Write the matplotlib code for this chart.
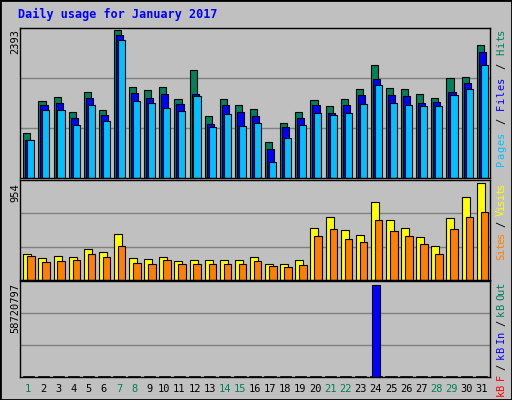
import matplotlib
matplotlib.use("Agg")
import matplotlib.pyplot as plt
import numpy as np

days = list(range(1, 32))
hits = [729,1251,1316,1072,1398,1104,2393,1480,1431,1480,1284,1741,1006,1284,1186,1121,582,892,1072,1268,1170,1284,1447,1822,1463,1447,1365,1300,1627,1643,2149]
files = [615,1186,1219,974,1300,1023,2312,1382,1300,1365,1202,1365,876,1186,1072,1006,468,827,974,1186,1055,1186,1349,1610,1349,1333,1219,1235,1398,1545,2035]
pages = [615,1104,1104,860,1186,925,2230,1251,1219,1137,1088,1333,827,1039,843,892,256,647,860,1055,1023,1055,1202,1512,1219,1186,1170,1170,1349,1447,1822]
visits = [259,218,238,228,301,280,456,218,207,228,187,197,197,197,197,228,156,156,197,508,622,487,446,767,591,508,425,332,612,819,954]
sites = [238,176,187,197,259,228,332,166,156,197,156,156,156,156,156,187,135,124,145,436,498,404,373,591,477,436,353,259,498,622,664]
kb_in = [0]*23 + [58720797] + [0]*7
weekend = [1,7,8,14,15,21,22,28,29]
max_hits, max_visits, max_kb = 2393, 954, 58720797

W, H = 512, 400
fig = plt.figure(figsize=(5.12, 4.0), dpi=100, facecolor="#c0c0c0")
bg = "#c0c0c0"
mono = "DejaVu Sans Mono"

def ax_px(l, t, r, b):
    return fig.add_axes([l/W, 1-b/H, (r-l)/W, (b-t)/H])

x = np.array(days)
xl = (0.45, 31.55)

def setup(ax, top, ymax):
    ax.set_facecolor(bg)
    ax.set_xlim(*xl)
    ax.set_ylim(0, top)
    for v in (ymax/3, 2*ymax/3):
        ax.axhline(v, color="#808080", lw=1, zorder=0)
    ax.set_xticks([]); ax.set_yticks([])
    for s in ax.spines.values():
        s.set_color("black"); s.set_linewidth(1)

a1 = ax_px(20, 28, 490, 178)
setup(a1, max_hits*1.015, max_hits*1.015)
a1.bar(x-0.33, hits, width=0.47, align="edge", color="#00805c", edgecolor="black", lw=0.8)
a1.bar(x-0.2, files, width=0.47, align="edge", color="#0000ff", edgecolor="black", lw=0.8)
a1.bar(x-0.07, pages, width=0.47, align="edge", color="#00c0ff", edgecolor="black", lw=0.8)

a2 = ax_px(20, 180, 490, 280)
setup(a2, max_visits*1.03, max_visits*1.03)
a2.bar(x-0.33, visits, width=0.53, align="edge", color="#ffff00", edgecolor="black", lw=0.8)
a2.bar(x-0.07, sites, width=0.5, align="edge", color="#ff8000", edgecolor="black", lw=0.8)

a3 = ax_px(20, 281, 490, 377)
setup(a3, max_kb*1.04, max_kb*1.04)
a3.bar(x, [max_kb*0.012]*31, width=0.75, align="center", color="black", edgecolor="black", lw=0.5)
a3.bar(x-0.25, kb_in, width=0.5, align="edge", color="#0000ff", edgecolor="black", lw=0.8)

for d in days:
    px = 20 + (d - xl[0]) / (xl[1]-xl[0]) * 470
    fig.text(px/W, 1-389/H, str(d), ha="center", va="center", family=mono, fontsize=7.5,
             color="#00805c" if d in weekend else "black")

fig.text(18/W, 1-14/H, "Daily usage for January 2017", family=mono, fontsize=8.5,
         fontweight="bold", color="#0000ff", va="center", ha="left")
for lab, ytop in (("2393", 29), ("954", 183), ("58720797", 283)):
    fig.text(15/W, 1-ytop/H, lab, rotation=90, family=mono, fontsize=7.5, va="top", ha="center")

def vlabel(parts, ytop, ybot):
    total = sum(len(p) for p, _ in parts)
    ch = (ybot - ytop) / total
    y = ybot
    for p, c in parts:
        for chr_ in p:
            if chr_ != " ":
                fig.text(501/W, 1-(y - ch/2)/H, chr_, rotation=90, family=mono, fontsize=7.5,
                         color=c, va="center", ha="center")
            y -= ch

vlabel([("Pages", "#00c0ff"), (" / ", "black"), ("Files", "#0000ff"), (" / ", "black"), ("Hits", "#00805c")], 28, 166)
vlabel([("Sites", "#ff8000"), (" / ", "black"), ("Visits", "#ffff00")], 183, 260)
vlabel([("kB F", "#ff0000"), (" / ", "black"), ("kB In", "#0000ff"), (" / ", "black"), ("kB Out", "#00805c")], 283, 396)

border = fig.add_axes([0, 0, 1, 1], facecolor="none")
border.set_xticks([]); border.set_yticks([])
for s in border.spines.values():
    s.set_color("black"); s.set_linewidth(2)
border.set_zorder(-1)

fig.savefig("out.png", dpi=100, facecolor=fig.get_facecolor())
